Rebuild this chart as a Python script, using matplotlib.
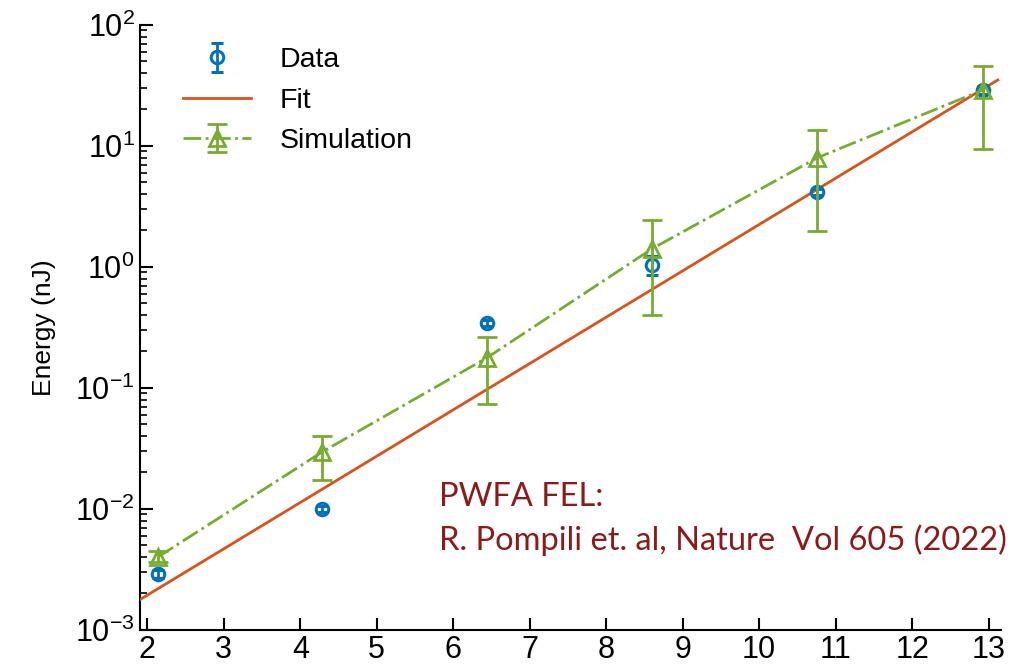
import numpy as np
from matplotlib import pyplot as plt

plt.rcParams['font.family'] = ['Liberation Sans', 'DejaVu Sans']

# data points (blue circles)
x_data = [2.14, 4.29, 6.44, 8.60, 10.76, 12.93]
y_data = [0.0029, 0.0100, 0.344, 1.04, 4.17, 29.0]
y_data_lo = [0.0027, 0.0094, 0.325, 0.86, 3.95, 27.0]
y_data_hi = [0.0031, 0.0106, 0.364, 1.22, 4.40, 31.0]

# simulation (green triangles)
x_sim = [2.14, 4.29, 6.44, 8.60, 10.76, 12.93]
y_sim = [0.0040, 0.0296, 0.177, 1.41, 7.96, 29.0]
y_sim_lo = [0.0036, 0.0174, 0.074, 0.40, 1.99, 9.4]
y_sim_hi = [0.0045, 0.0400, 0.264, 2.44, 13.5, 45.8]

# fit line end points
x_fit = [1.9, 13.12]
y_fit = [0.00177, 35.0]

blue = "#0072BD"
orange = "#D95319"
green = "#77AC30"

fig = plt.figure(figsize=(10.12, 6.70), dpi=100)
ax = fig.add_axes([0.138, 0.06, 0.851, 0.903])

err_d = [np.array(y_data) - np.array(y_data_lo), np.array(y_data_hi) - np.array(y_data)]
err_s = [np.array(y_sim) - np.array(y_sim_lo), np.array(y_sim_hi) - np.array(y_sim)]

h_data = ax.errorbar(x_data, y_data, yerr=err_d, fmt="o", color=blue, mfc="none",
                     ms=9, mew=2.2, elinewidth=2, capsize=4, capthick=2, label="Data", zorder=4)
h_fit, = ax.plot(x_fit, y_fit, color=orange, linewidth=2, label="Fit", zorder=3)
h_sim = ax.errorbar(x_sim, y_sim, yerr=err_s, fmt="^-.", color=green, mfc="none",
                    ms=12, mew=2, linewidth=2, elinewidth=2, capsize=7, capthick=2,
                    label="Simulation", zorder=5)

ax.set_yscale("log")
ax.set_ylim(1e-3, 1e2)
ax.set_xlim(1.9, 13.16)
ax.set_xticks(range(2, 14))
ax.set_ylabel("Energy (nJ)", fontsize=19, labelpad=14)

ax.spines["top"].set_visible(False)
ax.spines["right"].set_visible(False)
ax.spines["left"].set_linewidth(1.5)
ax.spines["bottom"].set_linewidth(1.5)
ax.tick_params(which="major", direction="in", length=9, width=1.5, labelsize=22)
ax.tick_params(which="minor", direction="in", length=5, width=1.2)
ax.tick_params(axis="x", which="minor", bottom=False)

ax.legend([h_data, h_fit, h_sim], ["Data", "Fit", "Simulation"],
          loc="upper left", bbox_to_anchor=(0.02, 1.005), frameon=False,
          fontsize=20.5, handlelength=2.4, handletextpad=1.0, labelspacing=0.5)

fig.text(0.434, 0.2254, "PWFA FEL:\nR. Pompili et. al, Nature  Vol 605 (2022)",
         fontsize=23.5, color="#8B1A1A", family=["Lato", "DejaVu Sans"],
         ha="left", va="center", linespacing=1.5)

plt.savefig("out.png", dpi=100)
